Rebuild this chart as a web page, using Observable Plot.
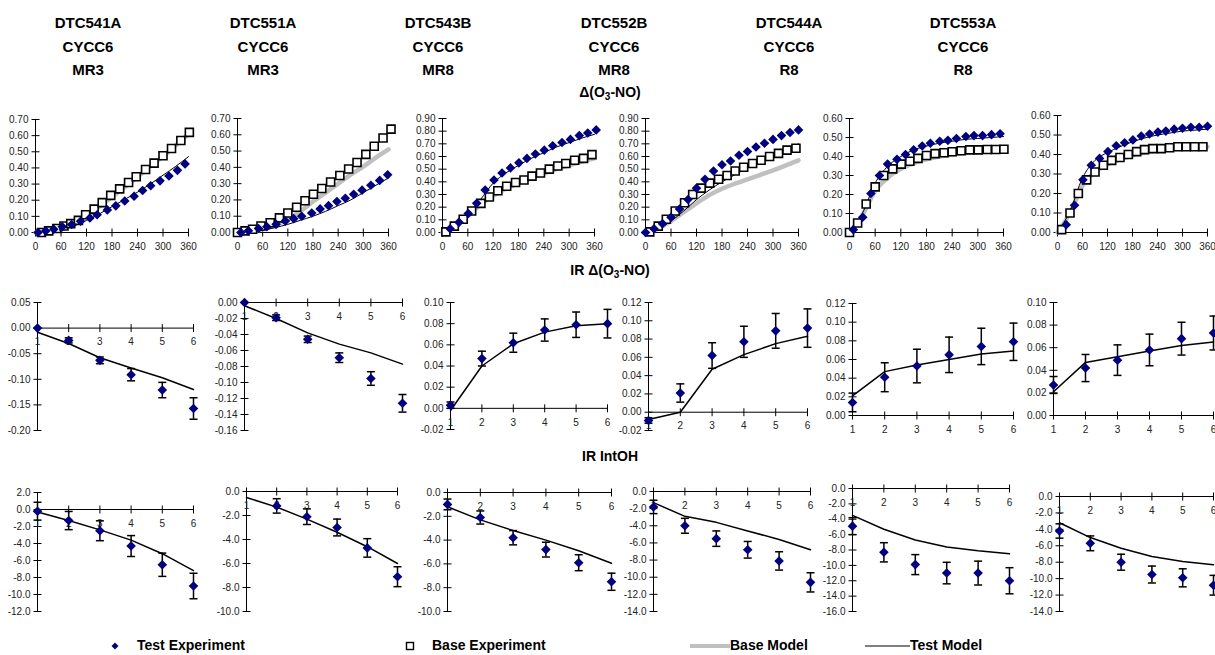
<!DOCTYPE html>
<html><head><meta charset="utf-8">
<script src="https://cdn.jsdelivr.net/npm/d3@7"></script>
<script src="https://cdn.jsdelivr.net/npm/@observablehq/plot@0.6"></script>
<style>
body{margin:0;background:#fff;}
#chart{position:relative;width:1215px;height:655px;overflow:hidden;background:#fff;font-family:"Liberation Sans",Arial,sans-serif;color:#000;}
.col{position:absolute;top:11px;width:170px;text-align:center;font-weight:bold;font-size:15px;line-height:23.5px;}
.rowt{position:absolute;left:460px;width:300px;text-align:center;font-weight:bold;font-size:14px;line-height:18px;}
.rowt sub{font-size:10px;vertical-align:-3px;line-height:0;}
.panel{position:absolute;}
.panel svg{display:block;}
.leg{position:absolute;font-weight:bold;font-size:14px;line-height:15px;white-space:nowrap;}
.sw{position:absolute;line-height:0;}
.sw svg{display:block;}
</style></head><body><div id="chart"></div>
<script>
// ---------------- Titles ----------------
const experiments = ["DTC541A","DTC551A","DTC543B","DTC552B","DTC544A","DTC553A"];
const compounds = ["CYCC6","CYCC6","CYCC6","CYCC6","CYCC6","CYCC6"];
const mixtures = ["MR3","MR3","MR8","MR8","R8","R8"];
const rowTitles = ["Δ(O<sub>3</sub>-NO)","IR Δ(O<sub>3</sub>-NO)","IR IntOH"];
const legendLabels = ["Test Experiment","Base Experiment","Base Model","Test Model"];

// ---------------- Axis ticks ----------------
const timeTicks = [0,60,120,180,240,300,360];
const runs = [1,2,3,4,5,6];
const modelTimes = [0,30,60,90,120,150,180,210,240,270,300,330,360];
const o3noTicksMR3 = [0,0.10,0.20,0.30,0.40,0.50,0.60,0.70];
const o3noTicksMR8 = [0,0.10,0.20,0.30,0.40,0.50,0.60,0.70,0.80,0.90];
const o3noTicksR8 = [0,0.10,0.20,0.30,0.40,0.50,0.60];
const irTicks541A = [0.05,0,-0.05,-0.10,-0.15,-0.20];
const irTicks551A = [0,-0.02,-0.04,-0.06,-0.08,-0.10,-0.12,-0.14,-0.16];
const irTicks543B = [0.10,0.08,0.06,0.04,0.02,0,-0.02];
const irTicks552B = [0.12,0.10,0.08,0.06,0.04,0.02,0,-0.02];
const irTicks544A = [0.12,0.10,0.08,0.06,0.04,0.02,0];
const irTicks553A = [0.10,0.08,0.06,0.04,0.02,0];
const ohTicks541A = [2,0,-2,-4,-6,-8,-10,-12];
const ohTicks551A = [0,-2,-4,-6,-8,-10];
const ohTicks543B = [0,-2,-4,-6,-8,-10];
const ohTicks552B = [0,-2,-4,-6,-8,-10,-12,-14];
const ohTicks544A = [0,-2,-4,-6,-8,-10,-12,-14,-16];
const ohTicks553A = [0,-2,-4,-6,-8,-10,-12,-14];

// ---------------- Row 1: Δ(O3-NO) vs time ----------------
const o3no541A_testT = [6,24,43,63,85,106,128,145,169,189,210,232,252,271,293,314,334,352];
const o3no541A_test  = [0.00,0.01,0.02,0.035,0.05,0.07,0.09,0.11,0.14,0.165,0.195,0.225,0.26,0.29,0.32,0.35,0.385,0.425];
const o3no541A_baseT = [14,31,50,67,83,101,118,138,157,177,198,219,237,259,279,300,320,342,362];
const o3no541A_base  = [0.00,0.01,0.025,0.04,0.055,0.075,0.11,0.145,0.185,0.23,0.27,0.31,0.345,0.39,0.43,0.475,0.52,0.57,0.62];
const o3no541A_baseModel = [0,0.01,0.035,0.065,0.105,0.16,0.22,0.28,0.345,0.41,0.47,0.54,0.61];
const o3no541A_testModel = [0,0.005,0.02,0.04,0.075,0.115,0.16,0.205,0.25,0.30,0.355,0.41,0.47];

const o3no551A_testT = [8,26,50,70,92,114,134,153,177,197,217,237,257,277,297,318,339,358];
const o3no551A_test  = [0,0.01,0.025,0.035,0.05,0.07,0.085,0.10,0.12,0.145,0.165,0.19,0.21,0.235,0.26,0.29,0.32,0.355];
const o3no551A_baseT = [0,18,36,56,78,100,120,141,161,181,201,222,244,265,285,306,326,347,366];
const o3no551A_base  = [0,0.01,0.02,0.04,0.06,0.09,0.12,0.155,0.195,0.235,0.27,0.31,0.35,0.39,0.43,0.48,0.53,0.58,0.635];
const o3no551A_baseModel = [0,0.005,0.02,0.045,0.08,0.13,0.19,0.245,0.30,0.355,0.405,0.46,0.51];
const o3no551A_testModel = [0,0.005,0.015,0.03,0.05,0.075,0.10,0.13,0.165,0.20,0.245,0.29,0.335];

const o3no543B_testT = [18,39,61,81,101,122,141,161,181,200,220,241,261,283,303,324,344,364];
const o3no543B_test  = [0.03,0.08,0.15,0.23,0.335,0.415,0.47,0.51,0.55,0.585,0.62,0.65,0.685,0.71,0.735,0.765,0.785,0.81];
const o3no543B_baseT = [8,28,49,69,91,111,131,152,173,193,212,232,253,273,292,313,334,354];
const o3no543B_base  = [0.005,0.05,0.105,0.17,0.23,0.28,0.33,0.365,0.395,0.415,0.445,0.47,0.50,0.525,0.545,0.57,0.585,0.615];
const o3no543B_baseModel = [0,0.055,0.13,0.22,0.29,0.345,0.39,0.43,0.465,0.50,0.53,0.56,0.585];
const o3no543B_testModel = [0,0.06,0.14,0.26,0.39,0.47,0.53,0.585,0.63,0.675,0.71,0.745,0.775];

const o3no552B_testT = [0,20,40,60,80,100,120,140,160,180,200,220,240,260,280,300,320,340,360];
const o3no552B_test  = [0,0.03,0.07,0.12,0.185,0.26,0.35,0.42,0.485,0.535,0.565,0.61,0.64,0.675,0.705,0.735,0.765,0.79,0.81];
const o3no552B_baseT = [10,30,49,70,92,111,131,151,172,192,211,231,252,272,292,313,333,354];
const o3no552B_base  = [0.005,0.05,0.105,0.17,0.235,0.30,0.35,0.39,0.42,0.45,0.485,0.515,0.545,0.57,0.60,0.625,0.65,0.665];
const o3no552B_baseModel = [0,0.03,0.09,0.16,0.23,0.295,0.345,0.385,0.42,0.455,0.49,0.53,0.57];
const o3no552B_testModel = [0,0.03,0.09,0.17,0.26,0.335,0.40,0.455,0.51,0.56,0.61,0.655,0.70];

const o3no544A_testT = [9,31,50,70,89,111,131,150,170,189,211,230,250,272,291,311,332,352];
const o3no544A_test  = [0.015,0.08,0.205,0.30,0.36,0.385,0.41,0.435,0.455,0.47,0.48,0.485,0.495,0.505,0.51,0.51,0.515,0.52];
const o3no544A_baseT = [0,19,39,60,80,101,121,141,160,180,200,221,240,261,281,301,322,342,361];
const o3no544A_base  = [0,0.05,0.15,0.24,0.30,0.335,0.36,0.375,0.39,0.405,0.415,0.42,0.425,0.43,0.435,0.435,0.437,0.437,0.438];
const o3no544A_baseModel = [0,0.09,0.22,0.29,0.335,0.365,0.385,0.40,0.41,0.42,0.425,0.43,0.435];
const o3no544A_testModel = [0,0.10,0.26,0.35,0.40,0.435,0.455,0.47,0.48,0.49,0.495,0.50,0.505];

const o3no553A_testT = [21,41,61,81,101,121,141,161,181,201,221,241,260,280,300,320,340,360];
const o3no553A_test  = [0.04,0.14,0.27,0.345,0.38,0.415,0.445,0.46,0.475,0.495,0.505,0.515,0.52,0.53,0.535,0.54,0.54,0.545];
const o3no553A_baseT = [10,30,50,70,90,110,130,150,170,190,209,229,249,269,289,309,329,349];
const o3no553A_base  = [0.015,0.10,0.20,0.27,0.31,0.345,0.37,0.385,0.40,0.415,0.425,0.43,0.43,0.435,0.44,0.44,0.44,0.44];
const o3no553A_baseModel = [0,0.10,0.24,0.31,0.35,0.375,0.395,0.41,0.42,0.43,0.435,0.44,0.44];
const o3no553A_testModel = [0,0.11,0.28,0.37,0.41,0.44,0.465,0.485,0.50,0.51,0.52,0.525,0.53];

// ---------------- Row 2: IR Δ(O3-NO) vs run ----------------
const ir541A_test  = [0.000,-0.024,-0.063,-0.091,-0.121,-0.157];
const ir541A_err   = [0,0.005,0.0065,0.012,0.015,0.021];
const ir541A_model = [-0.008,-0.030,-0.058,-0.078,-0.097,-0.120];
const ir551A_test  = [0.000,-0.019,-0.046,-0.069,-0.095,-0.126];
const ir551A_err   = [0,0.0035,0.004,0.006,0.0085,0.011];
const ir551A_model = [-0.004,-0.020,-0.038,-0.052,-0.063,-0.077];
const ir543B_test  = [0.003,0.047,0.062,0.074,0.079,0.080];
const ir543B_err   = [0.003,0.007,0.009,0.0105,0.012,0.0135];
const ir543B_model = [-0.002,0.040,0.061,0.072,0.078,0.080];
const ir552B_test  = [-0.009,0.021,0.062,0.077,0.089,0.092];
const ir552B_err   = [0.003,0.010,0.014,0.017,0.019,0.021];
const ir552B_model = [-0.008,0.000,0.047,0.063,0.075,0.083];
const ir544A_test  = [0.014,0.041,0.053,0.065,0.074,0.079];
const ir544A_err   = [0.010,0.0155,0.018,0.019,0.0195,0.020];
const ir544A_model = [0.021,0.047,0.054,0.060,0.066,0.069];
const ir553A_test  = [0.027,0.042,0.049,0.058,0.068,0.073];
const ir553A_err   = [0.0075,0.012,0.0135,0.014,0.0145,0.015];
const ir553A_model = [0.021,0.047,0.052,0.057,0.062,0.065];

// ---------------- Row 3: IR IntOH vs run ----------------
const oh541A_test  = [-0.2,-1.3,-2.5,-4.3,-6.5,-9.0];
const oh541A_err   = [1.05,1.07,1.17,1.23,1.37,1.5];
const oh541A_model = [-0.3,-1.3,-2.4,-3.6,-5.2,-7.2];
const oh551A_test  = [null,-1.2,-2.1,-3.0,-4.7,-7.1];
const oh551A_err   = [null,0.6,0.65,0.7,0.77,0.83];
const oh551A_model = [-0.5,-1.3,-2.3,-3.4,-4.6,-6.0];
const oh543B_test  = [-1.0,-2.1,-3.8,-4.8,-5.9,-7.5];
const oh543B_err   = [0.45,0.55,0.6,0.62,0.67,0.72];
const oh543B_model = [-1.2,-2.3,-3.2,-4.0,-4.9,-5.95];
const oh552B_test  = [-1.8,-4.0,-5.5,-6.8,-8.1,-10.6];
const oh552B_err   = [0.78,0.87,0.9,0.97,1.07,1.12];
const oh552B_model = [-1.3,-2.9,-3.6,-4.6,-5.6,-6.8];
const oh544A_test  = [-4.9,-8.3,-9.9,-11.0,-11.0,-12.0];
const oh544A_err   = [1.1,1.25,1.3,1.4,1.55,1.7];
const oh544A_model = [-3.5,-5.3,-6.7,-7.6,-8.1,-8.5];
const oh553A_test  = [-4.2,-5.7,-8.0,-9.5,-9.9,-10.8];
const oh553A_err   = [0.87,0.9,0.97,1.03,1.1,1.2];
const oh553A_model = [-3.2,-5.0,-6.3,-7.3,-7.9,-8.3];

// ---------------- Layout (page pixels of each plot frame: left, right, top, bottom) ----------------
const colCenters = [88,263,438,614,789,963];
const rowTitleCenters = [92,270,456];
const frames1 = [[35,188,119,232],[237,388,118,232],[442,594,118,232],[645,798,118,232],[849,1003,118,232],[1057,1207,115,232]];
const frames2 = [[37,193,302,430],[244,402,302,430],[450,607,302,429],[648,807,302,430],[852,1013,303,415],[1053,1213,302,415]];
const frames3 = [[37,193,492,611],[246,397,491,611],[447,611,492,611],[653,810,491,611],[852,1009,488,611],[1059,1213,496,611]];

const NAVY = "#000080", GRAY = "#c0c0c0", AX = "#000", LBL = "#222";
const FONT = "Liberation Sans, Arial, sans-serif";
const ML = 50, MR = 16, MT = 12, MB = 26;

const diamondSym = {draw(c){c.moveTo(0,-4.8);c.lineTo(4.8,0);c.lineTo(0,4.8);c.lineTo(-4.8,0);c.closePath();}};
const squareSym = {draw(c){c.rect(-4,-4,8,8);}};
const hTick = {draw(c){c.moveTo(-4,0);c.lineTo(4,0);}};
const vTick = {draw(c){c.moveTo(0,-4);c.lineTo(0,4);}};
const capSym = {draw(c){c.moveTo(-4,0);c.lineTo(4,0);}};

const chart = document.getElementById("chart");

function axisMarks(xmin, xTicks, yTicks, fmt, xAxisAt) {
  return [
    Plot.ruleX([xmin], {stroke: AX, strokeWidth: 1}),
    Plot.ruleY([xAxisAt], {stroke: AX, strokeWidth: 1}),
    Plot.dot(yTicks, {x: () => xmin, y: d => d, symbol: hTick, stroke: AX, fill: "none", strokeWidth: 1}),
    Plot.text(yTicks, {x: () => xmin, y: d => d, text: fmt, textAnchor: "end", dx: -7, fontSize: 10, fill: LBL}),
    Plot.dot(xTicks, {x: d => d, y: () => xAxisAt, symbol: vTick, stroke: AX, fill: "none", strokeWidth: 1}),
    Plot.text(xTicks, {x: d => d, y: () => xAxisAt, text: d => String(d), dy: 14, fontSize: 10, fill: LBL})
  ];
}

function addPanel(frame, xDomain, yDomain, marks) {
  const [L, R, T, B] = frame;
  const svg = Plot.plot({
    width: R - L + ML + MR, height: B - T + MT + MB,
    marginLeft: ML, marginRight: MR, marginTop: MT, marginBottom: MB,
    x: {domain: xDomain, axis: null}, y: {domain: yDomain, axis: null},
    style: {background: "transparent", overflow: "visible", fontFamily: FONT, maxWidth: "none"},
    marks
  });
  const div = document.createElement("div");
  div.className = "panel";
  div.style.left = (L - ML) + "px";
  div.style.top = (T - MT) + "px";
  div.append(svg);
  chart.append(div);
}

// Row 1 panels
const o3noPanels = [
  {testT: o3no541A_testT, test: o3no541A_test, baseT: o3no541A_baseT, base: o3no541A_base, bm: o3no541A_baseModel, tm: o3no541A_testModel, ticks: o3noTicksMR3},
  {testT: o3no551A_testT, test: o3no551A_test, baseT: o3no551A_baseT, base: o3no551A_base, bm: o3no551A_baseModel, tm: o3no551A_testModel, ticks: o3noTicksMR3},
  {testT: o3no543B_testT, test: o3no543B_test, baseT: o3no543B_baseT, base: o3no543B_base, bm: o3no543B_baseModel, tm: o3no543B_testModel, ticks: o3noTicksMR8},
  {testT: o3no552B_testT, test: o3no552B_test, baseT: o3no552B_baseT, base: o3no552B_base, bm: o3no552B_baseModel, tm: o3no552B_testModel, ticks: o3noTicksMR8},
  {testT: o3no544A_testT, test: o3no544A_test, baseT: o3no544A_baseT, base: o3no544A_base, bm: o3no544A_baseModel, tm: o3no544A_testModel, ticks: o3noTicksR8},
  {testT: o3no553A_testT, test: o3no553A_test, baseT: o3no553A_baseT, base: o3no553A_base, bm: o3no553A_baseModel, tm: o3no553A_testModel, ticks: o3noTicksR8}
];
o3noPanels.forEach((p, i) => {
  const testPts = p.testT.map((t, j) => ({t, v: p.test[j]}));
  const basePts = p.baseT.map((t, j) => ({t, v: p.base[j]}));
  const bmPts = modelTimes.map((t, j) => ({t, v: p.bm[j]}));
  const tmPts = modelTimes.map((t, j) => ({t, v: p.tm[j]}));
  addPanel(frames1[i], [0, 360], d3.extent(p.ticks), [
    ...axisMarks(0, timeTicks, p.ticks, d => d.toFixed(2), 0),
    Plot.line(bmPts, {x: "t", y: "v", stroke: GRAY, strokeWidth: 4.5, curve: "monotone-x"}),
    Plot.line(tmPts, {x: "t", y: "v", stroke: "#000", strokeWidth: 1, curve: "monotone-x"}),
    Plot.dot(basePts, {x: "t", y: "v", symbol: squareSym, fill: "#fff", stroke: "#000", strokeWidth: 1.6}),
    Plot.dot(testPts, {x: "t", y: "v", symbol: diamondSym, fill: NAVY, stroke: "none"})
  ]);
});

function runMarks(test, err, model) {
  const pts = runs.map((r, j) => ({r, v: test[j], e: err[j], m: model[j]}));
  const obs = pts.filter(d => d.v != null);
  const bars = obs.filter(d => d.e > 0);
  return [
    Plot.line(pts, {x: "r", y: "m", stroke: "#000", strokeWidth: 1.5}),
    Plot.ruleX(bars, {x: "r", y1: d => d.v - d.e, y2: d => d.v + d.e, stroke: "#000", strokeWidth: 1.5}),
    Plot.dot(bars, {x: "r", y: d => d.v - d.e, symbol: capSym, stroke: "#000", fill: "none", strokeWidth: 1.5}),
    Plot.dot(bars, {x: "r", y: d => d.v + d.e, symbol: capSym, stroke: "#000", fill: "none", strokeWidth: 1.5}),
    Plot.dot(obs, {x: "r", y: "v", symbol: diamondSym, fill: NAVY, stroke: "none"})
  ];
}

const irPanels = [
  [ir541A_test, ir541A_err, ir541A_model, irTicks541A],
  [ir551A_test, ir551A_err, ir551A_model, irTicks551A],
  [ir543B_test, ir543B_err, ir543B_model, irTicks543B],
  [ir552B_test, ir552B_err, ir552B_model, irTicks552B],
  [ir544A_test, ir544A_err, ir544A_model, irTicks544A],
  [ir553A_test, ir553A_err, ir553A_model, irTicks553A]
];
irPanels.forEach(([test, err, model, ticks], i) => {
  addPanel(frames2[i], [1, 6], d3.extent(ticks), [
    ...axisMarks(1, runs, ticks, d => d.toFixed(2), 0),
    ...runMarks(test, err, model)
  ]);
});

const ohPanels = [
  [oh541A_test, oh541A_err, oh541A_model, ohTicks541A],
  [oh551A_test, oh551A_err, oh551A_model, ohTicks551A],
  [oh543B_test, oh543B_err, oh543B_model, ohTicks543B],
  [oh552B_test, oh552B_err, oh552B_model, ohTicks552B],
  [oh544A_test, oh544A_err, oh544A_model, ohTicks544A],
  [oh553A_test, oh553A_err, oh553A_model, ohTicks553A]
];
ohPanels.forEach(([test, err, model, ticks], i) => {
  addPanel(frames3[i], [1, 6], d3.extent(ticks), [
    ...axisMarks(1, runs, ticks, d => d.toFixed(1), 0),
    ...runMarks(test, err, model)
  ]);
});

// Column titles
experiments.forEach((e, i) => {
  const d = document.createElement("div");
  d.className = "col";
  d.style.left = (colCenters[i] - 85) + "px";
  d.innerHTML = `${e}<br>${compounds[i]}<br>${mixtures[i]}`;
  chart.append(d);
});
// Row titles
rowTitles.forEach((t, i) => {
  const d = document.createElement("div");
  d.className = "rowt";
  d.style.top = (rowTitleCenters[i] - 9) + "px";
  d.innerHTML = t;
  chart.append(d);
});

// Legend
const legendX = [137, 432, 730, 910];
function sw(html, left, top, w, h) {
  const s = document.createElement("div");
  s.className = "sw"; s.style.left = left + "px"; s.style.top = top + "px";
  s.innerHTML = `<svg width="${w}" height="${h}">${html}</svg>`;
  chart.append(s);
}
sw(`<path d="M5,1.5L8.5,5L5,8.5L1.5,5Z" fill="${NAVY}"/>`, 110, 641, 10, 10);
sw(`<rect x="1.5" y="1.5" width="7" height="7" fill="#fff" stroke="#000" stroke-width="1.4"/>`, 405, 641, 10, 10);
sw(`<line x1="0" y1="3" x2="40" y2="3" stroke="${GRAY}" stroke-width="4"/>`, 690, 643, 40, 6);
sw(`<line x1="0" y1="2" x2="45" y2="2" stroke="#000" stroke-width="1"/>`, 865, 644, 45, 4);
legendLabels.forEach((t, i) => {
  const d = document.createElement("div");
  d.className = "leg";
  d.style.left = legendX[i] + "px";
  d.style.top = "638px";
  d.textContent = t;
  chart.append(d);
});
</script></body></html>
